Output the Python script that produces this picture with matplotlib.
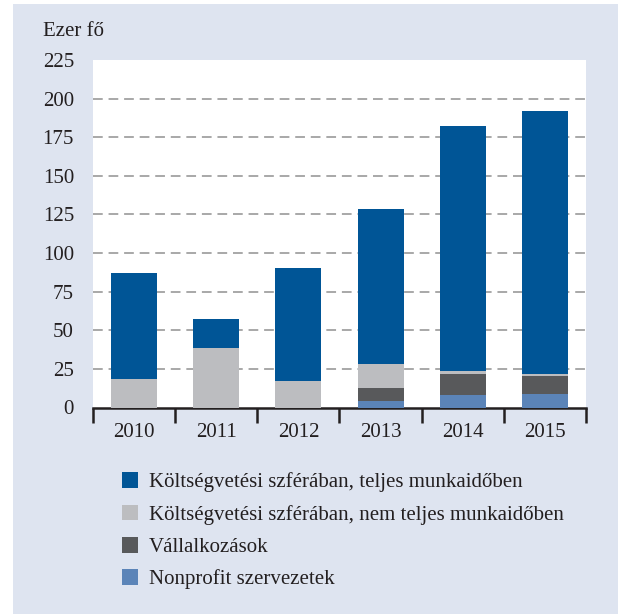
import matplotlib
matplotlib.use("Agg")
import matplotlib.pyplot as plt
from matplotlib.patches import Rectangle, Patch
import numpy as np

years = ["2010", "2011", "2012", "2013", "2014", "2015"]
nonprofit = [0, 0, 0, 4.3, 8.3, 8.9]
vallalkozasok = [0, 0, 0, 8.5, 13.6, 11.7]
kolts_nem_teljes = [18.6, 38.8, 17.3, 15.6, 1.9, 1.3]
kolts_teljes = [68.4, 18.7, 72.7, 100.1, 158.7, 170.3]

labels = [
    "Költségvetési szférában, teljes munkaidőben",
    "Költségvetési szférában, nem teljes munkaidőben",
    "Vállalkozások",
    "Nonprofit szervezetek",
]
colors = ["#005596", "#bcbdc0", "#58595b", "#5b84b8"]
yticks = [0, 25, 50, 75, 100, 125, 150, 175, 200, 225]

plt.rcParams['font.family'] = ['Liberation Serif', 'DejaVu Serif']

W, H = 618, 614
fig = plt.figure(figsize=(W / 100, H / 100), dpi=100)
fig.patch.set_facecolor("white")
bg = "#dee4f0"
fig.add_artist(Rectangle((13 / W, 0), 1 - 13 / W, 1 - 4 / H, transform=fig.transFigure,
                         facecolor=bg, edgecolor="none", zorder=-10))

ax = fig.add_axes([93 / W, 1 - 407.5 / H, 493 / W, (407.5 - 60) / H])
ax.set_facecolor("white")

x = np.arange(len(years))
w = 0.56
series = [nonprofit, vallalkozasok, kolts_nem_teljes, kolts_teljes]
scolors = [colors[3], colors[2], colors[1], colors[0]]
bottom = np.zeros(len(years))
for vals, c in zip(series, scolors):
    ax.bar(x, vals, w, bottom=bottom, color=c, zorder=3)
    bottom += np.array(vals)

fs = 15
ax.set_xlim(-0.5, len(years) - 0.5)
ax.set_ylim(0, 225)
ax.set_yticks(yticks)
ax.set_yticklabels([str(t) for t in yticks], fontsize=fs, color="#231f20")
ax.tick_params(axis="y", length=0, pad=13.7)
for t in yticks[1:-1]:
    ax.axhline(t, color="#a8a8a8", lw=1.4, ls=(0, (5, 3)), zorder=1)

ax.set_xticks(np.arange(-0.5, len(years), 1.0))
ax.set_xticklabels([])
ax.set_xticks(x, minor=True)
ax.set_xticklabels(years, minor=True, fontsize=fs, color="#231f20")
ax.tick_params(axis="x", which="major", length=11, width=1.8, color="#231f20", direction="out")
ax.tick_params(axis="x", which="minor", length=0, pad=11)

for s in ["left", "right", "top"]:
    ax.spines[s].set_visible(False)
ax.spines["bottom"].set_linewidth(1.8)
ax.spines["bottom"].set_color("#231f20")

fig.text(43 / W, 1 - 31 / H, "Ezer fő", fontsize=fs, color="#231f20", va="center", ha="left")

handles = [Patch(facecolor=c, edgecolor="none") for c in colors]
fig.legend(handles, labels, loc="upper left", bbox_to_anchor=(103 / W, 1 - 453.5 / H),
           frameon=False, fontsize=15, handlelength=0.8, handleheight=0.8,
           handletextpad=0.5, labelspacing=0.58, labelcolor="#231f20")

fig.savefig("out.png", dpi=100, facecolor=fig.get_facecolor())
